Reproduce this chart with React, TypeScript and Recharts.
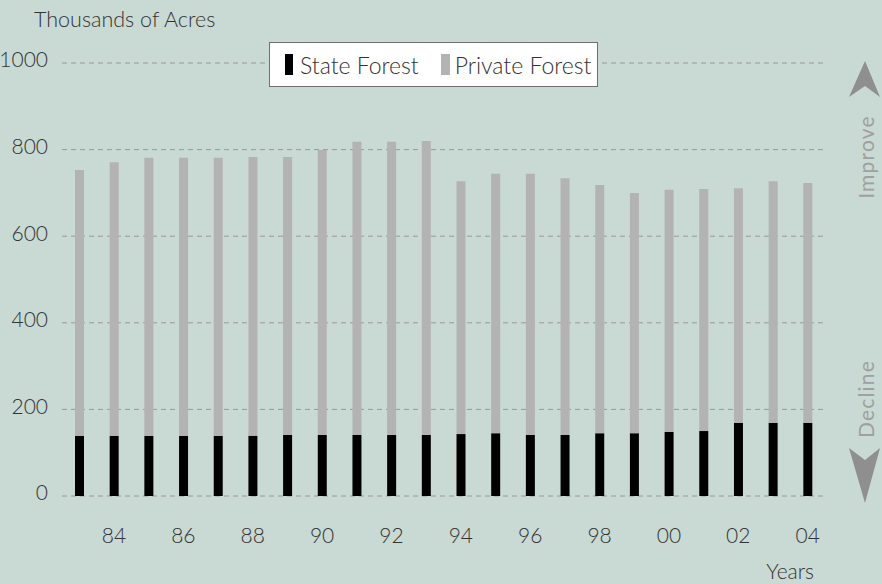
import React from 'react'
import {
  BarChart,
  Bar,
  XAxis,
  YAxis,
  CartesianGrid,
  Legend,
  Customized,
} from 'recharts'

const years = [
  '83', '84', '85', '86', '87', '88', '89', '90', '91', '92', '93',
  '94', '95', '96', '97', '98', '99', '00', '01', '02', '03', '04',
]

// thousands of acres
const stateForest = [
  139, 139, 139, 139, 139, 139, 141, 141, 141, 141, 141,
  143, 145, 141, 141, 145, 145, 148, 150, 169, 169, 169,
]
const privateForest = [
  614, 632, 642, 642, 642, 644, 642, 658, 677, 677, 679,
  584, 599, 603, 593, 573, 555, 559, 559, 542, 558, 554,
]

const yTicks = [0, 200, 400, 600, 800, 1000]

const BG = '#c9d9d3'
const GREY = '#b3b3b3'
const TEXT = '#333333'
const FONT = 'Lato, "Open Sans", sans-serif'

const data = years.map((y, i) => ({
  year: y,
  state: stateForest[i],
  private: privateForest[i],
}))

function LegendBox() {
  return (
    <div
      style={{
        display: 'flex',
        alignItems: 'center',
        background: '#ffffff',
        border: '1px solid #6f6f6f',
        height: 45,
        padding: '0 6px 0 15px',
        fontFamily: FONT,
        fontWeight: 300,
        fontSize: 23,
        color: TEXT,
        boxSizing: 'border-box',
        whiteSpace: 'nowrap',
      }}
    >
      <span style={{ display: 'inline-block', width: 8, height: 21, background: '#000', marginRight: 7 }} />
      <span style={{ marginRight: 22 }}>State Forest</span>
      <span style={{ display: 'inline-block', width: 9, height: 21, background: GREY, marginRight: 5 }} />
      <span>Private Forest</span>
    </div>
  )
}

function Decorations() {
  const side = '#a0a0a0'
  return (
    <g fontFamily={FONT} fontWeight={300}>
      <text x={34} y={27} fontSize={21.5} fill={TEXT}>
        Thousands of Acres
      </text>
      <text x={814} y={579} fontSize={21} fill={TEXT} textAnchor="end">
        Years
      </text>
      <path d="M865,61 L880,97 L865,86 L849,97 Z" fill="#8f8f8f" />
      <text
        x={865}
        y={157}
        fontSize={21}
        fontWeight={400}
        fill={side}
        textAnchor="middle"
        dominantBaseline="central"
        transform="rotate(-90 865 157)"
        letterSpacing={1.2}
      >
        Improve
      </text>
      <text
        x={865}
        y={399}
        fontSize={21}
        fontWeight={400}
        fill={side}
        textAnchor="middle"
        dominantBaseline="central"
        transform="rotate(-90 865 399)"
        letterSpacing={1.2}
      >
        Decline
      </text>
      <path d="M849,448 L865,460 L880,448 L865,503 Z" fill="#8f8f8f" />
    </g>
  )
}

export default function App() {
  return (
    <div style={{ position: 'absolute', left: 0, top: 0, width: 882, height: 584, background: BG }}>
      <BarChart
        width={882}
        height={584}
        data={data}
        margin={{ top: 63, right: 57, bottom: 0, left: 0 }}
      >
        <CartesianGrid vertical={false} stroke="#9a9a9a" strokeDasharray="5 4" />
        <XAxis
          dataKey="year"
          height={88}
          axisLine={false}
          tickLine={false}
          tickSize={0}
          tickMargin={32}
          interval={0}
          tickFormatter={(v: string) => (Number(v) % 2 === 0 ? v : '')}
          tick={{ fill: TEXT, fontSize: 21, fontFamily: FONT, fontWeight: 300 }}
        />
        <YAxis
          width={62}
          domain={[0, 1000]}
          ticks={yTicks}
          axisLine={false}
          tickLine={false}
          tickSize={0}
          tickMargin={14}
          tick={{ fill: TEXT, fontSize: 21, fontFamily: FONT, fontWeight: 300, dy: -3 }}
        />
        <Legend
          layout="horizontal"
          verticalAlign="middle"
          align="center"
          content={() => <LegendBox />}
          wrapperStyle={{ left: 269, top: 42, width: 'auto' }}
        />
        <Bar dataKey="state" name="State Forest" stackId="f" fill="#000000" barSize={9} isAnimationActive={false} />
        <Bar dataKey="private" name="Private Forest" stackId="f" fill={GREY} barSize={9} isAnimationActive={false} />
        <Customized component={Decorations} />
      </BarChart>
    </div>
  )
}
